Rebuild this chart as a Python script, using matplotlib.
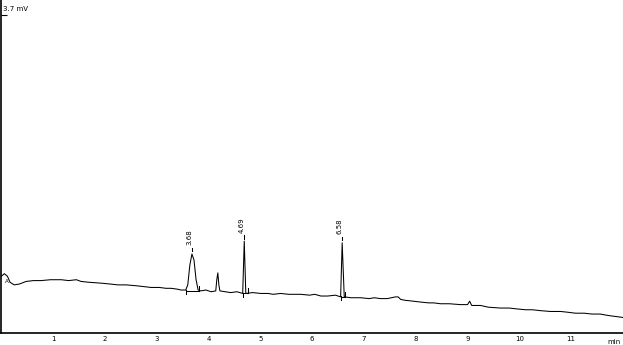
import matplotlib
matplotlib.use('Agg')
import matplotlib.pyplot as plt

# chromatogram trace (time in min, signal in mV)
trace_t = [0.0, 0.06, 0.12, 0.17, 0.25, 0.35, 0.48, 0.62, 0.77, 0.95, 1.16, 1.30,
           1.45, 1.54, 1.70, 1.93, 2.10, 2.25, 2.41, 2.60, 2.75, 2.89, 3.05, 3.18,
           3.28, 3.40, 3.47, 3.56, 3.60, 3.64, 3.68, 3.72, 3.76, 3.80, 3.85, 3.95,
           4.05, 4.14, 4.16, 4.18, 4.20, 4.22, 4.32, 4.43, 4.55, 4.66, 4.69, 4.72,
           4.85, 5.01, 5.15, 5.25, 5.39, 5.55, 5.65, 5.78, 5.95, 6.05, 6.17, 6.30,
           6.45, 6.55, 6.58, 6.62, 6.75, 6.94, 7.10, 7.20, 7.32, 7.45, 7.61, 7.66,
           7.71, 7.80, 7.95, 8.09, 8.25, 8.35, 8.48, 8.65, 8.86, 9.00, 9.04, 9.08,
           9.25, 9.40, 9.63, 9.80, 9.95, 10.12, 10.25, 10.40, 10.60, 10.80, 10.95,
           11.08, 11.25, 11.40, 11.56, 11.65, 11.75, 11.88, 12.0]
trace_mv = [0.66, 0.69, 0.66, 0.59, 0.56, 0.57, 0.60, 0.61, 0.61, 0.62, 0.62, 0.61,
            0.62, 0.60, 0.59, 0.58, 0.57, 0.56, 0.56, 0.55, 0.54, 0.53, 0.53, 0.52,
            0.52, 0.51, 0.50, 0.50, 0.56, 0.79, 0.92, 0.85, 0.62, 0.50, 0.49, 0.50,
            0.48, 0.49, 0.62, 0.70, 0.56, 0.49, 0.48, 0.47, 0.48, 0.46, 1.07, 0.46,
            0.47, 0.46, 0.46, 0.45, 0.46, 0.45, 0.45, 0.45, 0.44, 0.45, 0.43, 0.43,
            0.44, 0.42, 1.05, 0.42, 0.41, 0.41, 0.40, 0.41, 0.40, 0.40, 0.42, 0.42,
            0.39, 0.38, 0.37, 0.36, 0.35, 0.35, 0.34, 0.34, 0.33, 0.33, 0.37, 0.32,
            0.32, 0.30, 0.29, 0.29, 0.28, 0.27, 0.27, 0.26, 0.25, 0.25, 0.24,
            0.23, 0.23, 0.22, 0.22, 0.21, 0.20, 0.19, 0.18]

# integrated peaks
peak_rt = ['3.68', '4.69', '6.58']
peak_t = [3.68, 4.69, 6.58]
peak_top = [0.92, 1.07, 1.05]
peak_start = [3.56, 4.66, 6.55]
peak_end = [3.82, 4.76, 6.64]
peak_base = [0.49, 0.46, 0.42]

xticks = [1, 2, 3, 4, 5, 6, 7, 8, 9, 10, 11]

fig = plt.figure(figsize=(6.23, 3.45), dpi=100)
ax = fig.add_axes([0.002, 0.035, 0.998, 0.965])

ax.plot(trace_t, trace_mv, color='black', lw=0.75)

for rt, t, top, t0, t1, b in zip(peak_rt, peak_t, peak_top, peak_start, peak_end, peak_base):
    # baseline drop line and start / end markers
    ax.plot([t0, t1], [b, b], color='black', lw=0.75)
    ax.plot([t0, t0], [b - 0.04, b + 0.01], color='black', lw=0.75)
    ax.plot([t1, t1], [b, b + 0.06], color='black', lw=0.75)
    # apex stub and retention time label
    ax.plot([t, t], [top + 0.03, top + 0.07], color='black', lw=0.75)
    ax.text(t - 0.05, top + 0.1, rt, rotation=90, ha='center', va='bottom',
            fontsize=5, color='black')

ax.text(0.1, 0.60, 'A', fontsize=4, ha='center', va='center')

ax.set_xlim(0, 12)
ax.set_ylim(0, 3.88)
ax.set_xticks(xticks)
ax.set_xticklabels([str(v) for v in xticks], fontsize=5)
ax.tick_params(axis='x', length=0, pad=2)
ax.set_yticks([3.7])
ax.set_yticklabels([])
ax.tick_params(axis='y', direction='in', length=4, width=0.8)
ax.text(0.03, 3.78, '3.7 mV', fontsize=5, ha='left', va='center')
ax.text(11.83, -0.07, 'min', fontsize=5, ha='center', va='top', clip_on=False)

ax.spines['top'].set_visible(False)
ax.spines['right'].set_visible(False)
ax.spines['left'].set_linewidth(1.2)
ax.spines['bottom'].set_linewidth(1.2)

fig.savefig('out.png', dpi=100)
